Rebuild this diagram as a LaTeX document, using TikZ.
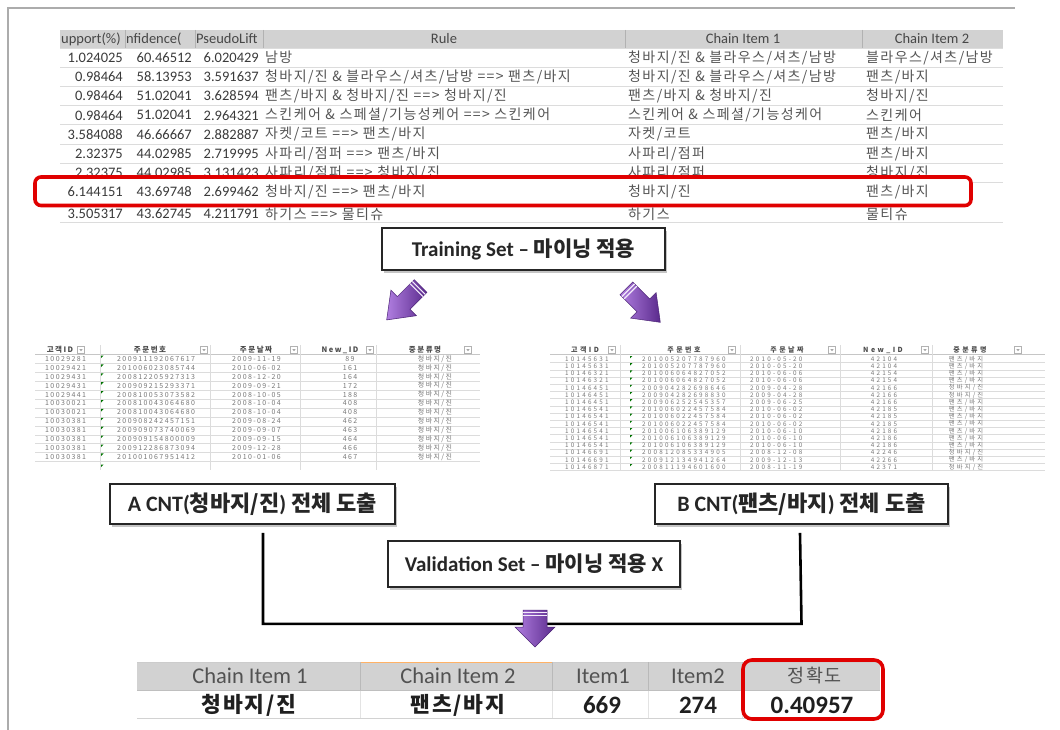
\documentclass[tikz,border=0pt]{standalone}
\usepackage{fontspec}
\setmainfont{Carlito}
\newfontfamily\krf{Noto Sans CJK KR}
\newfontfamily\krtf{Noto Sans CJK KR}[LetterSpace=10]
\newfontfamily\btf{Noto Sans CJK KR}[LetterSpace=8]
\newfontfamily\sLf{Noto Sans CJK KR}[LetterSpace=20]
\newfontfamily\sRf{Noto Sans CJK KR}[LetterSpace=35]
\usetikzlibrary{shadows,calc}
\definecolor{hdr}{HTML}{D2D2D2}
\definecolor{numc}{HTML}{3A3A3A}
\definecolor{krc}{HTML}{555555}
\definecolor{rowline}{HTML}{DCDCDC}
\definecolor{pdark}{HTML}{5A2A8C}
\definecolor{plight}{HTML}{B07EE0}
\definecolor{tgray}{HTML}{787878}
\definecolor{redbox}{HTML}{E00000}
\tikzset{
  hd/.style={font=\fontsize{14.5}{15}\selectfont, text=black!72, inner sep=0pt},
  num/.style={font=\fontsize{14.5}{15}\selectfont, text=numc, inner sep=0pt, anchor=east},
  kr/.style={font=\krtf\fontsize{14}{15}\selectfont, text=krc, inner sep=0pt, anchor=west},
  tbox/.style={draw=black!85, line width=1.8pt, fill=white, text=black!85,
    drop shadow={opacity=0.45, shadow xshift=2pt, shadow yshift=-3pt},
    inner sep=0pt},
  sl/.style={font=\sLf\fontsize{7}{8}\selectfont, text=tgray, inner sep=0pt},
  slh/.style={font=\sLf\bfseries\fontsize{7.5}{8}\selectfont, text=black!70, inner sep=0pt},
  sr/.style={font=\sRf\fontsize{6.3}{7}\selectfont, text=tgray, inner sep=0pt},
  srh/.style={font=\sRf\bfseries\fontsize{7}{8}\selectfont, text=black!70, inner sep=0pt},
  bth/.style={font=\fontsize{22.5}{23}\selectfont, text=black!68, inner sep=0pt},
  bthk/.style={font=\btf\fontsize{18.5}{19}\selectfont, text=black!68, inner sep=0pt},
  btd/.style={font=\bfseries\fontsize{25}{26}\selectfont, text=black!88, inner sep=0pt},
  btdk/.style={font=\btf\bfseries\fontsize{21.5}{22}\selectfont, text=black!88, inner sep=0pt},
  ddbox/.style={draw=gray!60, fill=white, line width=0.4pt},
}
% top table row: index, y, then six cells
\newcommand\trow[8]{%
  \node[num] (ts#1) at (123,#2) {#3};
  \node[num] (tc#1) at (192,#2) {#4};
  \node[num] (tp#1) at (259,#2) {#5};
  \node[kr] (tr#1) at (265,#2) {#6};
  \node[kr] (ta#1) at (628,#2) {#7};
  \node[kr] (tb#1) at (866,#2) {#8};}
% left small table row
\newcommand\lrow[6]{%
  \node[sl,anchor=west] (la#1) at (45,{359+8.9*(#1-1)}) {#2};
  \node[sl,anchor=west] (lb#1) at (117,{359+8.9*(#1-1)}) {#3};
  \node[sl,anchor=west] (lc#1) at (232,{359+8.9*(#1-1)}) {#4};
  \node[sl] (ld#1) at (350,{359+8.9*(#1-1)}) {#5};
  \node[sl] (le#1) at (435,{359+8.9*(#1-1)}) {#6};
  \fill[green!45!black] (101,{359+8.9*(#1-1)-3.5}) -- ++(2.6,0) -- ++(-2.6,2.6) -- cycle;
  \draw[rowline, line width=0.3pt] (35,{359+8.9*(#1-1)+4.45}) -- (480,{359+8.9*(#1-1)+4.45});}
% right small table row
\newcommand\rrow[6]{%
  \node[sr,anchor=west] (ra#1) at (565,{359+7.2*(#1-1)}) {#2};
  \node[sr,anchor=west] (rb#1) at (642,{359+7.2*(#1-1)}) {#3};
  \node[sr,anchor=west] (rc#1) at (750,{359+7.2*(#1-1)}) {#4};
  \node[sr] (rd#1) at (884,{359+7.2*(#1-1)}) {#5};
  \node[sr] (re#1) at (966,{359+7.2*(#1-1)}) {#6};
  \fill[green!45!black] (630,{359+7.2*(#1-1)-3}) -- ++(2.4,0) -- ++(-2.4,2.4) -- cycle;
  \draw[rowline, line width=0.3pt] (550,{359+7.2*(#1-1)+3.6}) -- (1045,{359+7.2*(#1-1)+3.6});}
% purple block arrow: tail x, tail y, rotation, length, shaft half, head half, head start
\newcommand\parrow[7]{%
  \begin{scope}[shift={(#1,#2)}, rotate=#3]
    \shade[left color=plight, right color=pdark, draw=pdark!85!black, line width=0.5pt]
      (-#5,0) -- (#5,0) -- (#5,#7) -- (#6,#7) -- (0,#4) -- (-#6,#7) -- (-#5,#7) -- cycle;
    \draw[white!85!plight, line width=1.1pt] (-#5,2.6) -- (#5,2.6);
    \draw[white!85!plight, line width=1.1pt] (-#5,5.8) -- (#5,5.8);
  \end{scope}}
% dropdown marker
\newcommand\ddm[2]{%
  \draw[ddbox] ({#1-3.6},{#2-3.6}) rectangle ({#1+3.6},{#2+3.6});
  \fill[gray!70] ({#1-1.6},{#2-0.8}) -- ({#1+1.6},{#2-0.8}) -- (#1,{#2+1.2}) -- cycle;}

\begin{document}
\begin{tikzpicture}[x=1pt,y=-1pt]
\useasboundingbox (0,0) rectangle (1060,730);
\fill[white] (0,0) rectangle (1060,730);
% frame
\draw[gray!65, line width=2pt] (8,730) -- (8,8) -- (1015,8);

% ---------- top table ----------
\fill[hdr] (60,30) rectangle (1003,48);
\foreach \x in {125,195,263,625,862} \draw[gray!60, line width=0.8pt] (\x,30) -- (\x,48);
\foreach \k in {0,...,7} \draw[rowline, line width=0.6pt] (60,{48+19.2*\k}) -- (1003,{48+19.2*\k});
\draw[rowline, line width=0.6pt] (60,222) -- (1003,222);
\node[hd, anchor=west] (h1) at (61,39) {upport(\%)};
\node[hd, anchor=west] (h2) at (126,39) {nfidence(};
\node[hd, anchor=west] (h3) at (196,39) {PseudoLift};
\node[hd] (h4) at (444,39) {Rule};
\node[hd] (h5) at (743,39) {Chain Item 1};
\node[hd] (h6) at (932,39) {Chain Item 2};

\trow{1}{57.6}{1.024025}{60.46512}{6.020429}{남방}{청바지/진 \& 블라우스/셔츠/남방}{블라우스/셔츠/남방}
\trow{2}{76.8}{0.98464}{58.13953}{3.591637}{청바지/진 \& 블라우스/셔츠/남방 ==> 팬츠/바지}{청바지/진 \& 블라우스/셔츠/남방}{팬츠/바지}
\trow{3}{96}{0.98464}{51.02041}{3.628594}{팬츠/바지 \& 청바지/진 ==> 청바지/진}{팬츠/바지 \& 청바지/진}{청바지/진}
\trow{4}{115.2}{0.98464}{51.02041}{2.964321}{스킨케어 \& 스페셜/기능성케어 ==> 스킨케어}{스킨케어 \& 스페셜/기능성케어}{스킨케어}
\trow{5}{134.4}{3.584088}{46.66667}{2.882887}{자켓/코트 ==> 팬츠/바지}{자켓/코트}{팬츠/바지}
\trow{6}{153.6}{2.32375}{44.02985}{2.719995}{사파리/점퍼 ==> 팬츠/바지}{사파리/점퍼}{팬츠/바지}
\trow{7}{172.8}{2.32375}{44.02985}{3.131423}{사파리/점퍼 ==> 청바지/진}{사파리/점퍼}{청바지/진}
% red highlight box
\draw[redbox, line width=3.6pt, fill=white, rounded corners=6pt] (35,177) rectangle (971,205.5);
\trow{8}{191.5}{6.144151}{43.69748}{2.699462}{청바지/진 ==> 팬츠/바지}{청바지/진}{팬츠/바지}
\trow{9}{214}{3.505317}{43.62745}{4.211791}{하기스 ==> 물티슈}{하기스}{물티슈}

% ---------- training box ----------
\node[tbox, minimum width=283pt, minimum height=42pt, font=\bfseries\fontsize{21}{22}\selectfont] (train) at (523.5,249) {Training Set – {\krf 마이닝 적용}};

% arrows
\parrow{420.6}{286}{-45}{48}{9}{18}{24}
\parrow{626.4}{288.4}{45}{48}{9}{18}{24}

% ---------- left small table ----------
\node[slh] (lh1) at (60,350) {고객ID};
\node[slh] (lh2) at (150,350) {주문번호};
\node[slh] (lh3) at (256,350) {주문날짜};
\node[slh] (lh4) at (340,350) {New\_ID};
\node[slh] (lh5) at (425,350) {중분류명};
\ddm{81}{350}\ddm{204}{350}\ddm{294}{350}\ddm{370}{350}\ddm{468}{350}
\draw[gray!45, line width=0.4pt] (35,354.5) -- (480,354.5);
\foreach \x in {100,210,300,376} \draw[rowline, line width=0.3pt] (\x,345) -- (\x,470);
\lrow{1}{10029281}{200911192067617}{2009-11-19}{89}{청바지/진}
\lrow{2}{10029421}{201006023085744}{2010-06-02}{161}{청바지/진}
\lrow{3}{10029431}{200812205927313}{2008-12-20}{164}{청바지/진}
\lrow{4}{10029431}{200909215293371}{2009-09-21}{172}{청바지/진}
\lrow{5}{10029441}{200810053073582}{2008-10-05}{188}{청바지/진}
\lrow{6}{10030021}{200810043064680}{2008-10-04}{408}{청바지/진}
\lrow{7}{10030021}{200810043064680}{2008-10-04}{408}{청바지/진}
\lrow{8}{10030381}{200908242457151}{2009-08-24}{462}{청바지/진}
\lrow{9}{10030381}{200909073740069}{2009-09-07}{463}{청바지/진}
\lrow{10}{10030381}{200909154800009}{2009-09-15}{464}{청바지/진}
\lrow{11}{10030381}{200912286873094}{2009-12-28}{466}{청바지/진}
\lrow{12}{10030381}{201001067951412}{2010-01-06}{467}{청바지/진}
\fill[green!45!black] (101,464.5) -- ++(2.6,0) -- ++(-2.6,2.6) -- cycle;

% ---------- right small table ----------
\node[srh] (rh1) at (585,350) {고객ID};
\node[srh] (rh2) at (684,350) {주문번호};
\node[srh] (rh3) at (787,350) {주문날짜};
\node[srh] (rh4) at (883,350) {New\_ID};
\node[srh] (rh5) at (970,350) {중분류명};
\ddm{612}{350}\ddm{732}{350}\ddm{832}{350}\ddm{925}{350}\ddm{1018}{350}
\draw[gray!45, line width=0.4pt] (550,354.5) -- (1045,354.5);
\foreach \x in {620,740,840,932} \draw[rowline, line width=0.3pt] (\x,345) -- (\x,471);
\rrow{1}{10145631}{201005207787960}{2010-05-20}{42104}{팬츠/바지}
\rrow{2}{10145631}{201005207787960}{2010-05-20}{42104}{팬츠/바지}
\rrow{3}{10146321}{201006064827052}{2010-06-06}{42154}{팬츠/바지}
\rrow{4}{10146321}{201006064827052}{2010-06-06}{42154}{팬츠/바지}
\rrow{5}{10146451}{200904282698646}{2009-04-28}{42166}{청바지/진}
\rrow{6}{10146451}{200904282698830}{2009-04-28}{42166}{청바지/진}
\rrow{7}{10146451}{200906252545357}{2009-06-25}{42166}{팬츠/바지}
\rrow{8}{10146541}{201006022457584}{2010-06-02}{42185}{팬츠/바지}
\rrow{9}{10146541}{201006022457584}{2010-06-02}{42185}{팬츠/바지}
\rrow{10}{10146541}{201006022457584}{2010-06-02}{42185}{팬츠/바지}
\rrow{11}{10146541}{201006106389129}{2010-06-10}{42186}{팬츠/바지}
\rrow{12}{10146541}{201006106389129}{2010-06-10}{42186}{팬츠/바지}
\rrow{13}{10146541}{201006106389129}{2010-06-10}{42186}{팬츠/바지}
\rrow{14}{10146691}{200812085334905}{2008-12-08}{42246}{청바지/진}
\rrow{15}{10146691}{200912134941264}{2009-12-13}{42266}{팬츠/바지}
\rrow{16}{10146871}{200811194601600}{2008-11-19}{42371}{청바지/진}

% ---------- A / B boxes ----------
\node[tbox, minimum width=285pt, minimum height=40pt, font=\bfseries\fontsize{22}{23}\selectfont] (A) at (252.5,504) {A CNT({\krf 청바지/진}) {\krf 전체 도출}};
\node[tbox, minimum width=293pt, minimum height=40pt, font=\bfseries\fontsize{22}{23}\selectfont] (B) at (801.5,504) {B CNT({\krf 팬츠/바지}) {\krf 전체 도출}};

% bracket
\draw[black, line width=2.6pt] ($(A.south)+(10.5,8)$) |- ($(B.south)+(0,99)$) -- ($(B.south)+(-1.5,8)$);

\node[tbox, minimum width=292pt, minimum height=46pt, font=\bfseries\fontsize{21}{22}\selectfont] (V) at (534,564) {Validation Set – {\krf 마이닝 적용} X};

% down arrow
\parrow{535}{610}{0}{37}{12}{20}{17}

% ---------- bottom table ----------
\fill[hdr] (137,662) rectangle (880,690);
\draw[gray!40, line width=0.6pt] (137,662) -- (880,662);
\draw[orange!60, line width=1pt] (360,662) -- (552,662);
\foreach \x in {360,552,648,742} \draw[gray!55, line width=0.8pt] (\x,662) -- (\x,690);
\foreach \x in {360,552,648,742} \draw[gray!22, line width=0.5pt] (\x,690) -- (\x,718);
\draw[gray!50, line width=0.6pt] (137,690) -- (880,690);
\draw[gray!35, line width=0.6pt] (137,718) -- (880,718);
\node[bth] (bh1) at (250,676) {Chain Item 1};
\node[bth] (bh2) at (458,676) {Chain Item 2};
\node[bth] (bh3) at (603,676) {Item1};
\node[bth] (bh4) at (698,676) {Item2};
\node[bthk] (bh5) at (815,676) {정확도};
\node[btdk] (bd1) at (249,705) {청바지/진};
\node[btdk] (bd2) at (458,705) {팬츠/바지};
\node[btd] (bd3) at (602,705) {669};
\node[btd] (bd4) at (698,705) {274};
\node[btd] (bd5) at (812,705) {0.40957};
\draw[redbox, line width=3.6pt, rounded corners=9pt] (743,660) rectangle (883,719);
\end{tikzpicture}
\end{document}
